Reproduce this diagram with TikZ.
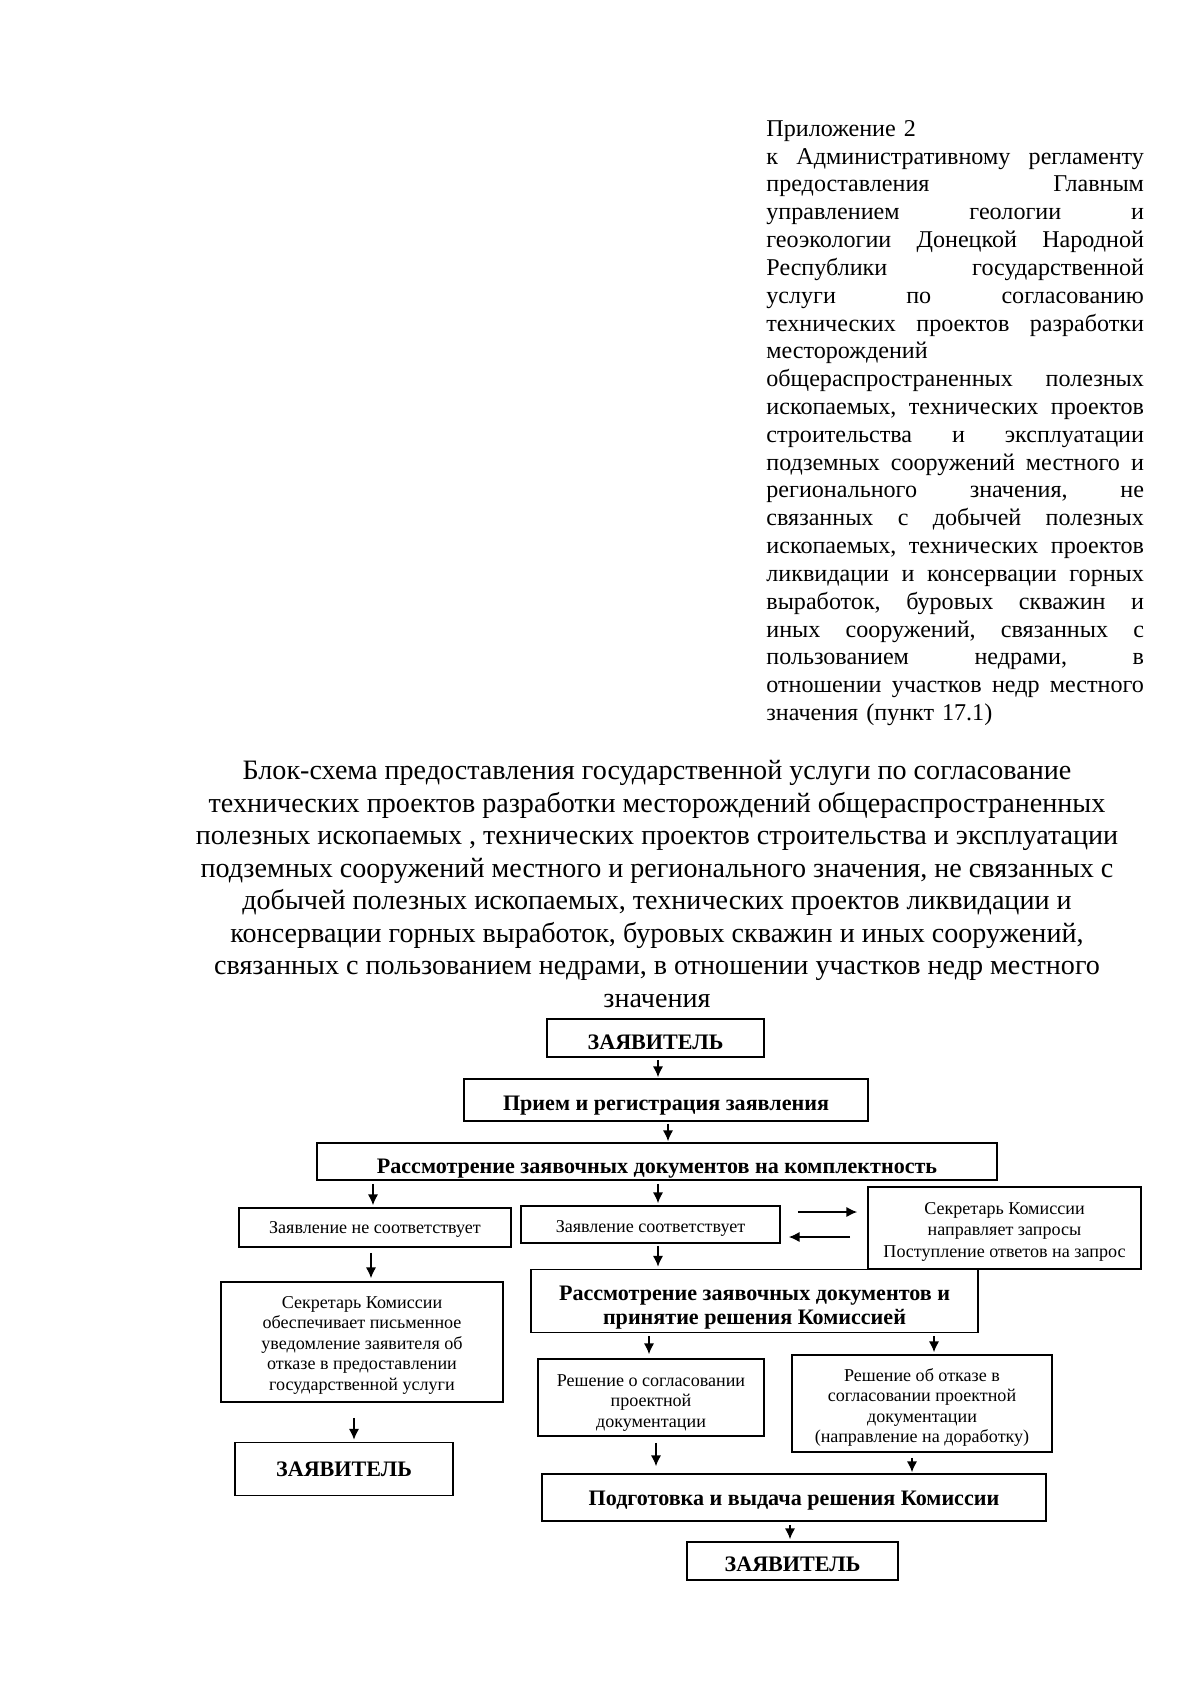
\documentclass[tikz,border=0pt]{standalone}
\usepackage{fontspec}
\setmainfont{Liberation Serif}
\usepackage{tikz}
\usetikzlibrary{positioning, arrows.meta, calc}

% one justified line of the header block
\newcommand{\jl}[1]{\leavevmode\hbox to 188pt{#1}}

\begin{document}
\begin{tikzpicture}[
    x=0.175mm, y=-0.175mm,
    box/.style={draw, rectangle, line width=0.8pt, align=center, inner sep=1pt, text depth=0pt},
    mainbox/.style={box, font=\fontsize{11}{12}\selectfont\bfseries},
    smallbox/.style={box, font=\fontsize{9}{10.2}\selectfont},
    sz/.style 2 args={minimum width=#1*0.175mm, minimum height=#2*0.175mm},
    lower/.style={execute at begin node={\rule{0pt}{#1}}},
    arrow/.style={line width=0.75pt, -{Latex[length=1.9mm, width=1.8mm]}}
]
\useasboundingbox (0,0) rectangle (1200,1697);

% header
\node[anchor=north west, inner sep=0, align=left, text width=188pt,
      font=\fontsize{12}{13.85}\selectfont] (appx) at (766,120) {Приложение 2\\
\jl{к\hfill Административному\hfill регламенту}\\
\jl{предоставления\hfill Главным}\\
\jl{управлением\hfill геологии\hfill и}\\
\jl{геоэкологии\hfill Донецкой\hfill Народной}\\
\jl{Республики\hfill государственной}\\
\jl{услуги\hfill по\hfill согласованию}\\
\jl{технических\hfill проектов\hfill разработки}\\
месторождений\\
\jl{общераспространенных\hfill полезных}\\
\jl{ископаемых,\hfill технических\hfill проектов}\\
\jl{строительства\hfill и\hfill эксплуатации}\\
\jl{подземных\hfill сооружений\hfill местного\hfill и}\\
\jl{регионального\hfill значения,\hfill не}\\
\jl{связанных\hfill с\hfill добычей\hfill полезных}\\
\jl{ископаемых,\hfill технических\hfill проектов}\\
\jl{ликвидации\hfill и\hfill консервации\hfill горных}\\
\jl{выработок,\hfill буровых\hfill скважин\hfill и}\\
\jl{иных\hfill сооружений,\hfill связанных\hfill с}\\
\jl{пользованием\hfill недрами,\hfill в}\\
\jl{отношении\hfill участков\hfill недр\hfill местного}\\
значения (пункт 17.1)};

\node[anchor=north, inner sep=0, align=center, font=\fontsize{14}{16.2}\selectfont] (title) at (657,760)
{Блок-схема предоставления государственной услуги по согласование\\
технических проектов разработки месторождений общераспространенных\\
полезных ископаемых , технических проектов строительства и эксплуатации\\
подземных сооружений местного и регионального значения, не связанных с\\
добычей полезных ископаемых, технических проектов ликвидации и\\
консервации горных выработок, буровых скважин и иных сооружений,\\
связанных с пользованием недрами, в отношении участков недр местного\\
значения};

% boxes
\node[mainbox, sz={217}{38}, lower=11.6pt] (zayav1) at (655.5,1038) {ЗАЯВИТЕЛЬ};
\node[mainbox, sz={404}{42}, lower=10.5pt] (priem) at (666,1100) {Прием и регистрация заявления};
\node[mainbox, sz={680}{37}, lower=11.6pt] (kompl) at (657,1161.5) {Рассмотрение заявочных документов на комплектность};
\node[smallbox, sz={272}{39}] (nesoot) at (375,1227.5) {Заявление не соответствует};
\node[smallbox, sz={259}{37}, lower=8pt] (soot) at (650.5,1224.5) {Заявление соответствует};
\node[smallbox, sz={273}{82}, font=\fontsize{9}{10.7}\selectfont, lower=29pt] (zapros) at (1004.5,1228) {Секретарь Комиссии\\направляет запросы\\Поступление ответов на запрос};
\node[mainbox, sz={447}{63}, lower=23.3pt] (reshkom) at (754.5,1301) {Рассмотрение заявочных документов и\\принятие решения Комиссией};
\node[smallbox, sz={282}{120}, lower=47.9pt] (uvedom) at (362,1342) {Секретарь Комиссии\\обеспечивает письменное\\уведомление заявителя об\\отказе в предоставлении\\государственной услуги};
\node[smallbox, sz={226}{77}, lower=29.6pt] (sogl) at (651,1397.5) {Решение о согласовании\\проектной\\документации};
\node[smallbox, sz={260}{97}, lower=39pt] (otkaz) at (922,1403.5) {Решение об отказе в\\согласовании проектной\\документации\\(направление на доработку)};
\node[mainbox, sz={218}{53}] (zayav2) at (344,1469) {ЗАЯВИТЕЛЬ};
\node[mainbox, sz={504}{47}, lower=8.4pt] (vydacha) at (794,1497.5) {Подготовка и выдача решения Комиссии};
\node[mainbox, sz={211}{38}, lower=10.5pt] (zayav3) at (792.5,1561) {ЗАЯВИТЕЛЬ};

% arrows
\draw[arrow] ($(zayav1.south)+(2.5,2)$) -- ($(priem.north)+(-8,-1)$);
\draw[arrow] ($(priem.south)+(2,2)$) -- ($(kompl.north)+(11,-1)$);
\draw[arrow] ($(kompl.south)+(-284,3)$) -- ($(nesoot.north)+(-2,-2)$);
\draw[arrow] ($(kompl.south)+(1,3)$) -- ($(soot.north)+(7.5,-2)$);
\draw[arrow] ($(soot.east)+(17,-12.5)$) -- ($(zapros.west)+(-10,-16)$);
\draw[arrow] ($(zapros.west)+(-17,9)$) -- ($(soot.east)+(8,12.5)$);
\draw[arrow] ($(soot.south)+(7.5,2)$) -- ($(reshkom.north)+(-96.5,-2)$);
\draw[arrow] ($(nesoot.south)+(-4,5)$) -- ($(uvedom.north)+(9,-3)$);
\draw[arrow] ($(reshkom.south)+(-105.5,3)$) -- ($(sogl.north)+(-2,-4)$);
\draw[arrow] ($(reshkom.south)+(179.5,3)$) -- ($(otkaz.north)+(12,-2)$);
\draw[arrow] ($(uvedom.south)+(-8,15)$) -- ($(zayav2.north)+(10,-2)$);
\draw[arrow] ($(sogl.south)+(5,6)$) -- ($(vydacha.north)+(-138,-7)$);
\draw[arrow] ($(otkaz.south)+(-10,5)$) -- ($(vydacha.north)+(118,-1)$);
\draw[arrow] ($(vydacha.south)+(-4,3)$) -- ($(zayav3.north)+(-2.5,-2)$);
\end{tikzpicture}
\end{document}
